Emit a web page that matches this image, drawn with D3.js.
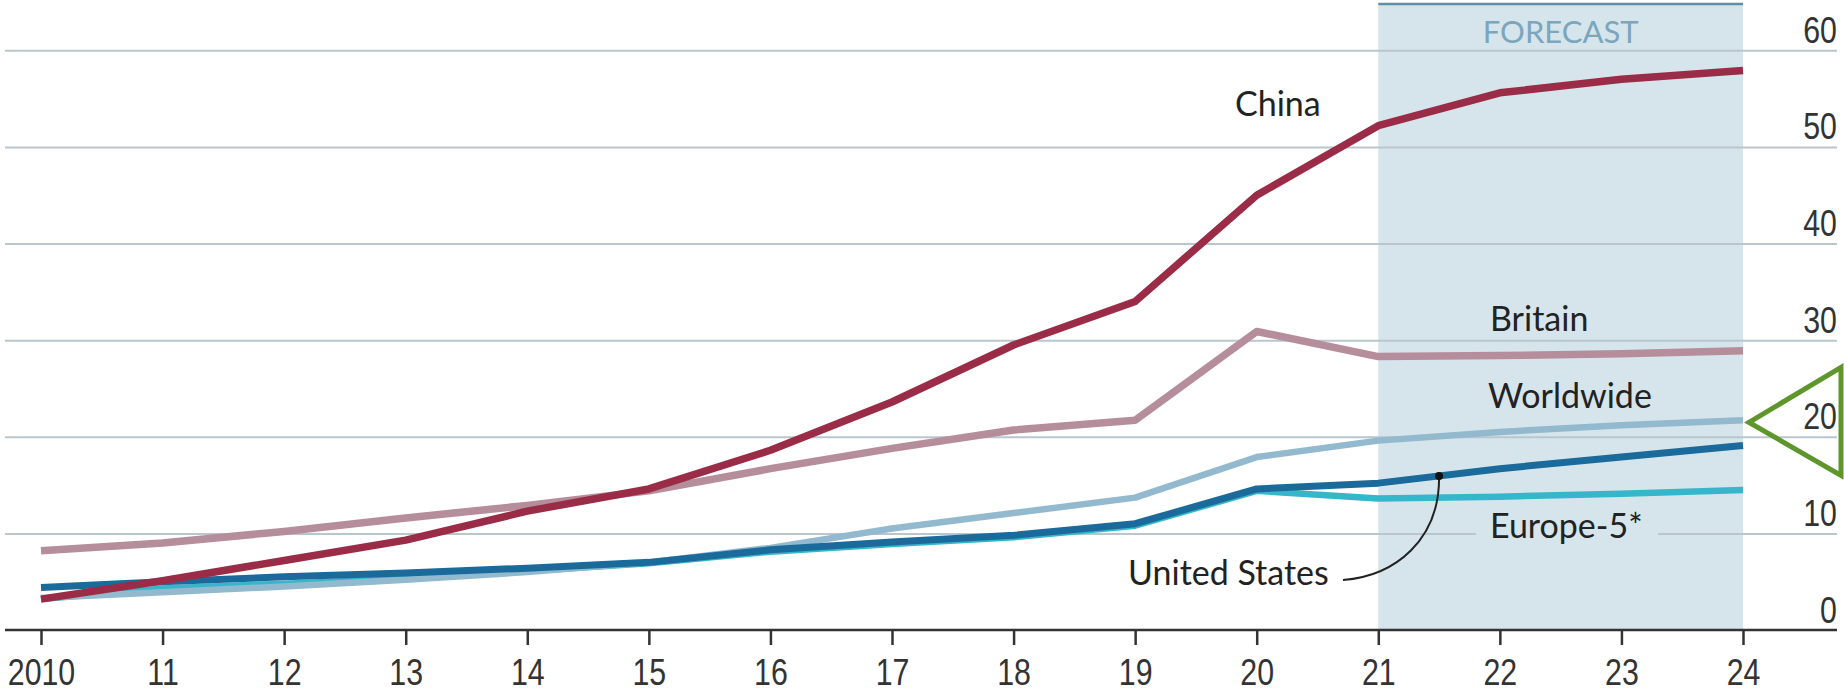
<!DOCTYPE html>
<html>
<head>
<meta charset="utf-8">
<script src="https://d3js.org/d3.v7.min.js"></script>
<style>
  body { margin: 0; background: #fff; }
  .num { font-family: "Liberation Sans", Arial, sans-serif; font-size: 37px; fill: #333; }
  .lab { font-family: Lato, "Open Sans", sans-serif; font-size: 34px; fill: #222; }
</style>
</head>
<body>
<div id="chart"></div>
<script>
// values (percent)
var years = [2010, 2011, 2012, 2013, 2014, 2015, 2016, 2017, 2018, 2019, 2020, 2021, 2022, 2023, 2024];
var yearLabels = ["2010", "11", "12", "13", "14", "15", "16", "17", "18", "19", "20", "21", "22", "23", "24"];
var china     = [3.2, 5.1, 7.2, 9.3, 12.3, 14.6, 18.6, 23.6, 29.5, 34.0, 45.0, 52.2, 55.6, 57.0, 57.9];
var britain   = [8.2, 9.0, 10.2, 11.6, 12.9, 14.4, 16.7, 18.8, 20.7, 21.7, 30.9, 28.3, 28.4, 28.6, 28.9];
var worldwide = [3.3, 3.9, 4.5, 5.2, 6.0, 7.0, 8.5, 10.5, 12.1, 13.7, 17.9, 19.6, 20.5, 21.2, 21.7];
var us        = [4.4, 5.0, 5.5, 5.9, 6.4, 7.0, 8.3, 9.1, 9.8, 11.0, 14.6, 15.2, 16.7, 17.9, 19.1];
var europe    = [3.2, 4.3, 4.8, 5.3, 6.1, 6.9, 8.1, 8.9, 9.6, 10.8, 14.4, 13.6, 13.8, 14.1, 14.5];
var yTicks = [0, 10, 20, 30, 40, 50, 60];
var forecastFrom = 2021;

var W = 1844, H = 695;
var svg = d3.select('#chart').append('svg')
  .attr('width', W).attr('height', H);

var x = d3.scaleLinear().domain([2010, 2024]).range([41, 1743]);
var y = d3.scaleLinear().domain([0, 60]).range([630, 50.3]);

// narrow the number font a bit, like the original's condensed face
var squeeze = 'scale(0.82,1)';

// forecast band
var bandFill = '#d6e5ec';
svg.append('rect')
  .attr('x', x(forecastFrom)).attr('y', 4)
  .attr('width', x(2024) - x(forecastFrom)).attr('height', y(0) - 4)
  .attr('fill', bandFill);
svg.append('line')
  .attr('x1', x(forecastFrom)).attr('x2', x(2024))
  .attr('y1', 4).attr('y2', 4)
  .attr('stroke', '#5f90a8').attr('stroke-width', 2.5);
svg.append('text')
  .attr('x', (x(forecastFrom) + x(2024)) / 2).attr('y', 43)
  .attr('text-anchor', 'middle')
  .attr('class', 'lab')
  .style('font-size', '31px')
  .style('fill', '#7ba6bc')
  .text('FORECAST');

// gridlines + right-hand labels
var yAxis = svg.append('g')
  .attr('transform', 'translate(1837,0)')
  .call(d3.axisRight(y).tickValues(yTicks).tickSize(-1832).tickFormat(d3.format('d')));
yAxis.select('.domain').remove();
yAxis.selectAll('.tick line')
  .attr('stroke', function(d) { return d === 0 ? 'none' : '#b9c6ce'; })
  .attr('stroke-width', 2);
yAxis.selectAll('.tick text')
  .attr('class', 'num')
  .attr('x', 0).attr('dy', null).attr('y', -8)
  .attr('text-anchor', 'end')
  .attr('transform', squeeze);

// gap in the 10-line behind the Europe-5* label
svg.append('rect')
  .attr('x', 1476).attr('y', y(10) - 4)
  .attr('width', 182).attr('height', 8)
  .attr('fill', bandFill);

// lines
var line = d3.line()
  .x(function(d) { return x(d[0]); })
  .y(function(d) { return y(d[1]); });

var series = [
  {name: 'Europe-5*', values: europe, color: '#35b6ca', w: 6.5},
  {name: 'Worldwide', values: worldwide, color: '#93b9ce', w: 6.5},
  {name: 'United States', values: us, color: '#1b6a9c', w: 7},
  {name: 'Britain', values: britain, color: '#b68d9b', w: 7.5},
  {name: 'China', values: china, color: '#9b2c47', w: 7.5}
];

svg.selectAll('path.series')
  .data(series)
  .enter()
  .append('path')
    .attr('class', 'series')
    .attr('d', function(s) { return line(years.map(function(yr, i) { return [yr, s.values[i]]; })); })
    .attr('fill', 'none')
    .attr('stroke', function(s) { return s.color; })
    .attr('stroke-width', function(s) { return s.w; })
    .attr('stroke-linejoin', 'round');

// x axis
var xAxis = svg.append('g')
  .attr('transform', 'translate(0,' + y(0) + ')')
  .call(d3.axisBottom(x).tickValues(years).tickSize(15).tickPadding(10)
    .tickFormat(function(d, i) { return yearLabels[i]; }));
xAxis.select('.domain').remove();
xAxis.selectAll('.tick line').attr('stroke', '#333').attr('stroke-width', 2.5);
xAxis.selectAll('.tick text')
  .attr('class', 'num')
  .attr('dy', null).attr('y', 55)
  .attr('transform', squeeze);
svg.append('line')
  .attr('x1', 5).attr('x2', 1837)
  .attr('y1', y(0)).attr('y2', y(0))
  .attr('stroke', '#333').attr('stroke-width', 2.5);

// series labels
var labels = [
  {t: 'China', x: 1235, y: 116},
  {t: 'Britain', x: 1490, y: 331},
  {t: 'Worldwide', x: 1488, y: 408},
  {t: 'Europe-5*', x: 1490, y: 538},
  {t: 'United States', x: 1128, y: 585}
];
svg.selectAll('text.series-label')
  .data(labels)
  .enter()
  .append('text')
    .attr('class', 'lab series-label')
    .attr('x', function(d) { return d.x; })
    .attr('y', function(d) { return d.y; })
    .text(function(d) { return d.t; });

// pointer from "United States" to its line
var usAt = 2021.5;
var usVal = (us[11] + us[12]) / 2;
var px = x(usAt), py = y(usVal);
svg.append('path')
  .attr('d', 'M1343,580 C1395,576 1440,540 ' + px + ',' + py)
  .attr('fill', 'none').attr('stroke', '#222').attr('stroke-width', 2);
svg.append('circle')
  .attr('cx', px).attr('cy', py).attr('r', 4).attr('fill', '#111');

// green marker triangle
var tipX = x(2024) + 6, tipY = y(worldwide[14]) + 2;
svg.append('path')
  .attr('d', 'M' + tipX + ',' + tipY + ' L1841,' + (tipY - 55) + ' L1841,' + (tipY + 53) + ' Z')
  .attr('fill', 'none')
  .attr('stroke', '#5f962c')
  .attr('stroke-width', 5);
</script>
</body>
</html>
